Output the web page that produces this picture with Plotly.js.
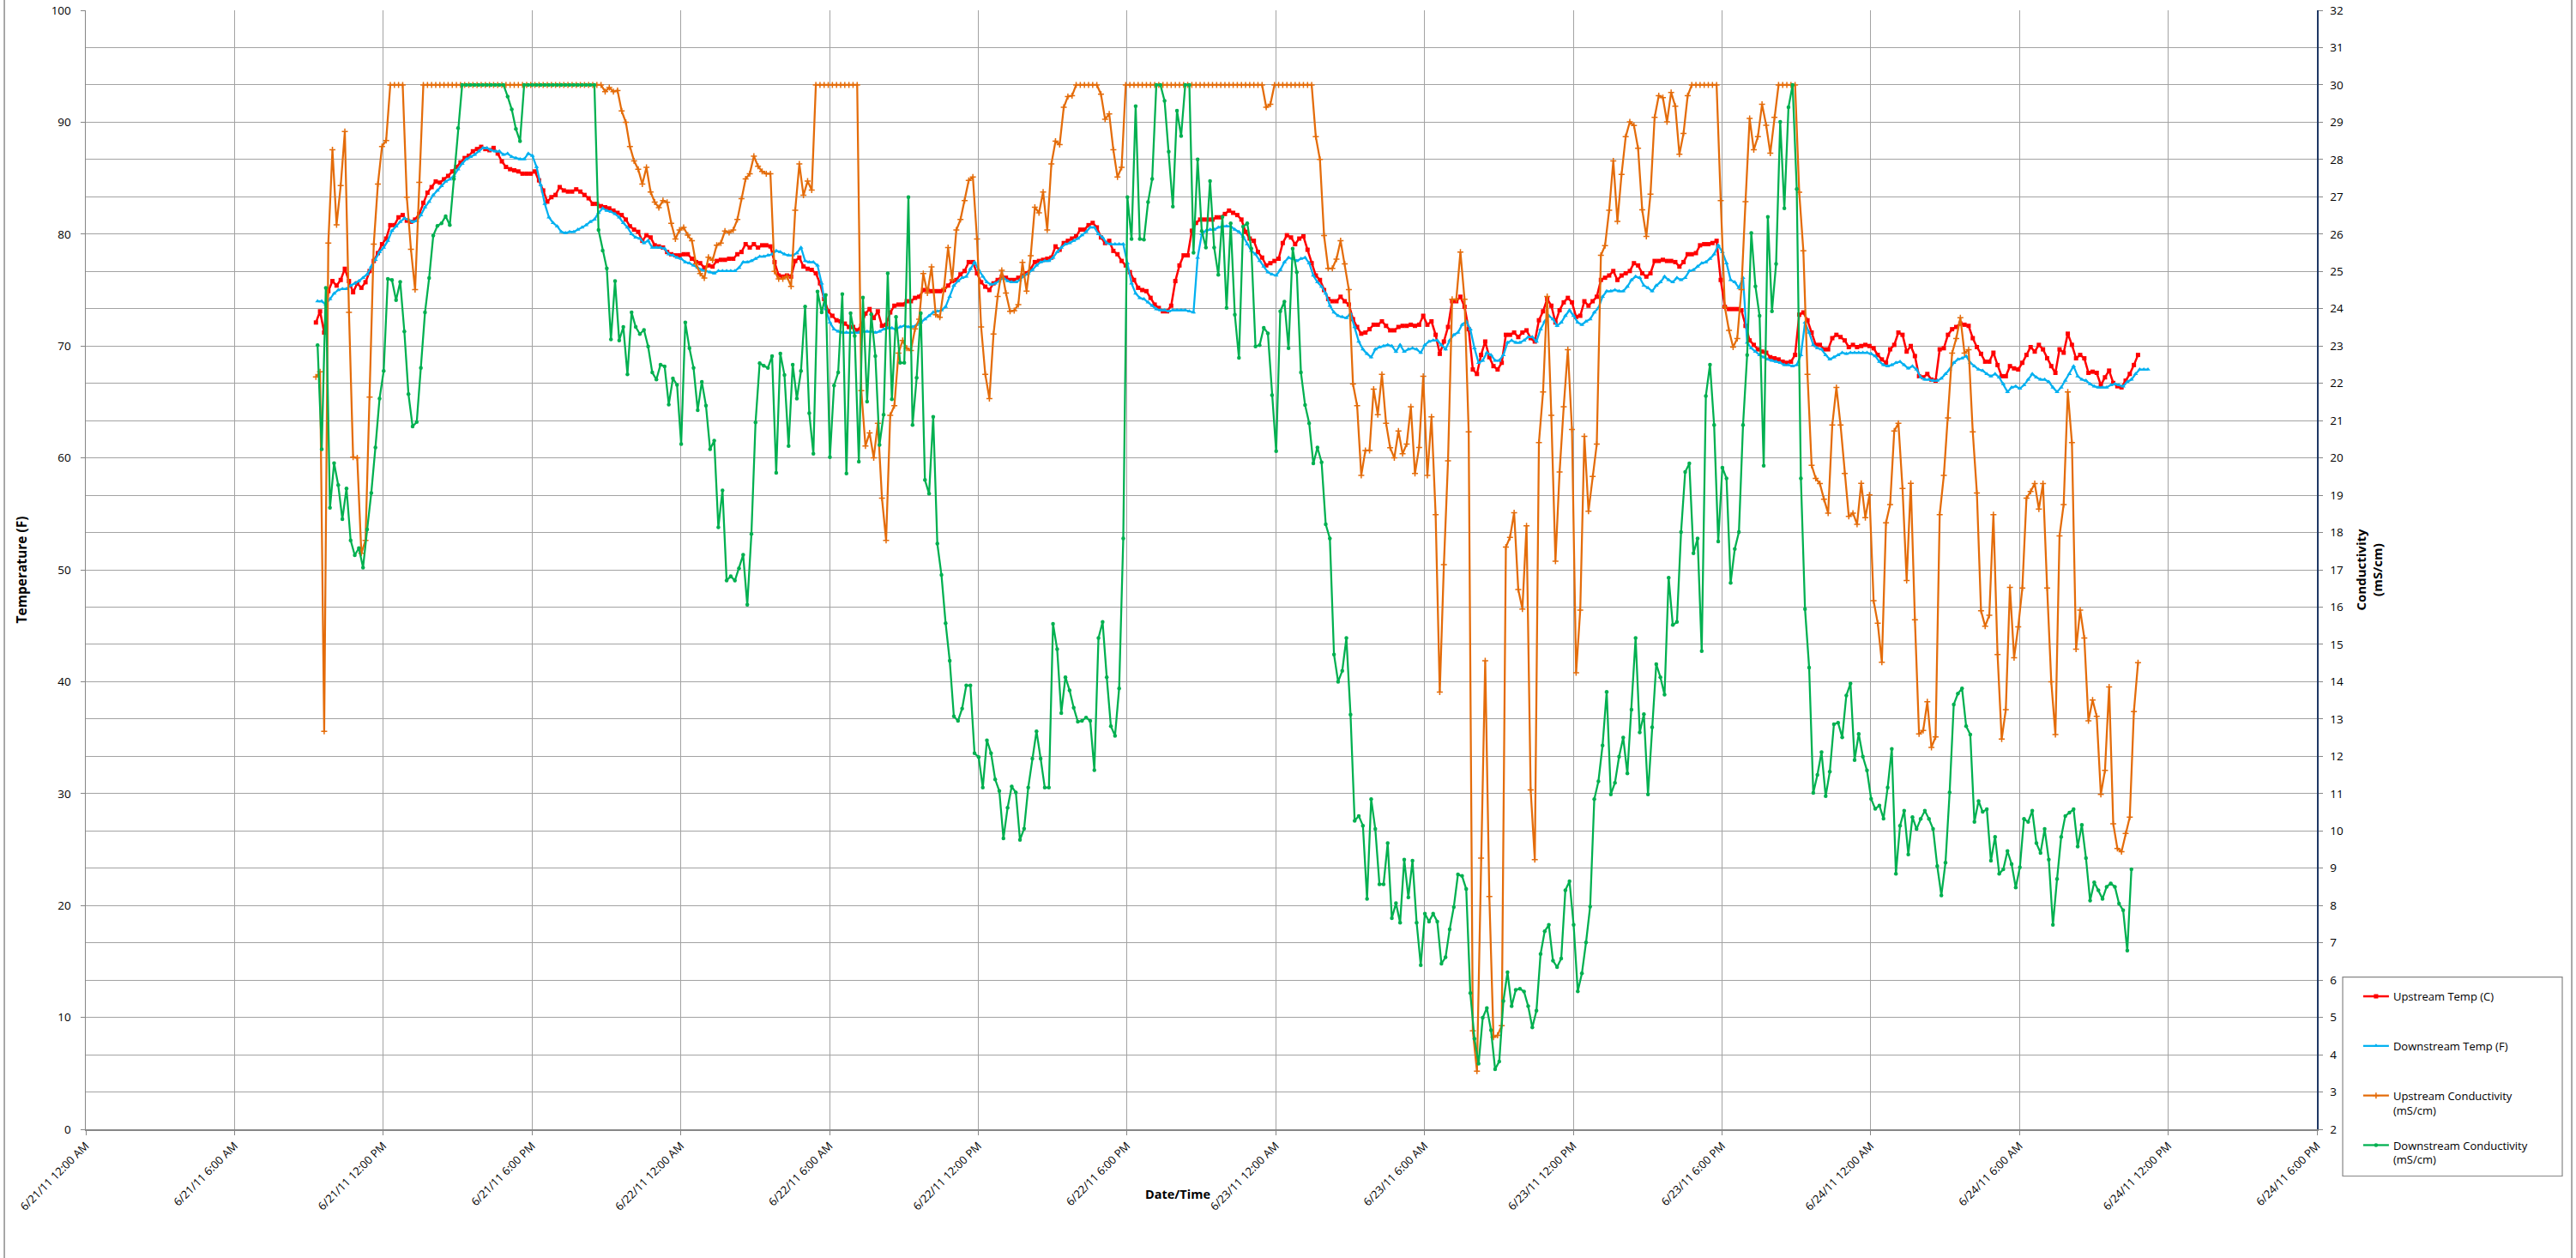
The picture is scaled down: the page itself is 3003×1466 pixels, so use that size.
<!DOCTYPE html>
<html>
<head>
<meta charset="utf-8">
<script src="https://cdn.plot.ly/plotly-3.0.1.min.js"></script>
<style>
html,body{margin:0;padding:0;background:#ffffff;}
#chart{width:3003px;height:1466px;}
</style>
</head>
<body>
<div id="chart"></div>
<script>
// ---- data (10-minute logger samples) ----
const upstreamStart = '2011-06-21T09:17:00';
const downstreamStart = '2011-06-21T09:21:00';
const sampleMinutes = 10;

const seriesNames = [
  'Upstream Temp (C)<br> ',
  'Downstream Temp (F)<br> ',
  'Upstream Conductivity<br>(mS/cm)',
  'Downstream Conductivity<br>(mS/cm)'
];

const xTickRange = ['2011-06-21 00:00:00', '2011-06-24 18:00:00'];

// Upstream temperature (left axis)
const upstreamTemp = [
72.1,73.1,71.2,74.9,75.8,75.4,75.9,76.9,75.8,74.8,
75.6,75.2,75.7,76.7,77.6,78.3,79.1,79.6,80.8,80.8,
81.5,81.7,81.2,81.1,81.3,81.8,82.8,83.7,84.2,84.7,
84.6,84.9,85.2,85.6,86.0,86.4,86.8,87.0,87.4,87.6,
87.8,87.6,87.5,87.7,87.2,86.5,86.0,85.8,85.7,85.6,
85.4,85.4,85.4,85.6,84.8,83.9,82.9,83.3,83.5,84.2,
83.9,83.8,83.8,84.0,83.8,83.5,83.2,82.7,82.7,82.5,
82.4,82.3,82.1,81.9,
81.7,81.3,80.7,80.4,80.2,79.4,79.9,79.7,79.0,78.9,
78.8,78.4,78.2,78.1,78.1,78.2,78.2,77.8,77.5,77.4,
77.0,77.2,77.1,77.6,77.7,77.7,77.8,77.8,78.2,78.4,
79.1,78.8,79.1,78.8,79.0,79.0,78.9,77.5,76.3,76.2,
76.3,76.2,77.6,77.9,77.1,76.9,76.8,76.5,75.6,74.2,
73.1,72.7,72.3,72.2,72.0,71.7,71.7,71.4,71.8,72.9,
73.3,72.5,73.1,71.8,71.9,73.0,73.6,73.7,73.7,74.0,
74.0,74.3,74.4,
75.0,75.0,74.9,74.9,74.9,75.0,75.4,75.8,75.9,76.4,
76.7,77.5,77.5,76.5,75.7,75.3,75.0,75.6,75.9,76.2,
76.1,75.9,75.9,76.1,76.3,76.5,76.9,77.5,77.6,77.7,
77.8,77.9,78.9,78.6,79.2,79.4,79.6,79.8,80.4,80.4,
80.8,81.0,80.6,79.7,79.2,79.4,78.5,78.2,77.6,77.2,
76.6,75.9,75.2,75.0,74.9,74.3,73.7,73.4,73.1,73.1,
73.6,75.8,77.2,78.1,78.1,80.3,81.0,81.3,81.3,81.3,
81.3,81.5,81.5,81.8,
82.1,81.9,81.7,81.3,80.2,79.6,79.4,78.4,77.9,77.2,
77.4,77.6,77.8,79.2,79.9,79.7,79.1,79.6,79.8,78.6,
77.4,76.3,75.9,75.0,74.2,74.0,74.0,74.4,74.0,73.7,
72.4,71.7,71.1,71.2,71.5,71.9,71.9,72.2,71.8,71.4,
71.4,71.7,71.8,71.8,71.9,71.8,71.9,72.7,71.9,72.2,
71.0,69.3,70.4,71.7,74.0,74.0,74.4,73.5,71.5,67.9,
67.5,69.2,70.4,69.0,68.2,67.9,68.5,71.0,71.0,71.2,
70.8,71.2,71.4,70.7,
70.4,72.3,73.1,74.2,73.6,72.1,73.2,73.9,74.3,73.9,
72.6,72.7,74.0,73.6,74.0,74.4,75.9,76.1,76.3,76.7,
75.9,76.3,76.5,76.7,77.4,77.2,76.5,76.2,76.5,77.6,
77.6,77.7,77.6,77.6,77.5,77.1,77.5,78.2,78.2,78.3,
79.0,79.1,79.1,79.2,79.4,75.9,73.5,73.3,73.3,73.3,
73.2,71.8,70.5,70.1,69.7,69.5,69.4,69.0,68.9,68.8,
68.6,68.5,68.6,69.2,72.8,73.0,72.3,71.2,70.1,70.1,
69.7,69.7,70.7,71.0,
70.8,70.5,69.9,70.1,69.9,70.0,70.1,70.0,69.8,69.2,
68.8,68.5,69.7,70.1,71.2,71.0,69.5,70.0,69.1,67.3,
67.2,67.5,67.0,66.9,69.7,69.8,71.0,71.5,71.7,72.0,
71.9,71.8,70.7,69.9,69.3,68.6,68.6,69.4,68.3,67.3,
67.3,68.2,68.0,67.9,68.5,69.2,69.9,69.5,70.1,69.7,
68.9,68.2,67.6,69.7,69.4,71.1,70.1,68.9,69.2,68.9,
67.6,67.7,67.6,66.5,67.2,67.8,66.7,66.4,66.3,66.9,
67.5,68.3,69.2
];

// Downstream temperature (left axis)
const downstreamTemp = [
74.0,74.0,73.7,74.2,74.7,75.0,75.1,75.1,75.4,75.6,
75.8,76.1,76.4,77.1,77.7,78.4,78.8,79.4,80.3,80.7,
81.1,81.4,81.3,81.1,81.2,81.7,82.4,82.9,83.5,83.9,
84.3,84.7,84.9,85.2,85.8,86.3,86.7,86.9,87.1,87.4,
87.7,87.7,87.5,87.4,87.4,87.1,87.2,86.9,86.8,86.7,
86.7,87.2,87.0,86.0,84.4,82.7,81.5,81.0,80.7,80.2,
80.1,80.2,80.2,80.4,80.6,80.8,81.1,81.3,81.9,82.3,
82.1,82.0,81.8,81.5,
81.0,80.6,80.0,79.7,79.6,79.2,79.4,78.8,78.8,78.8,
78.7,78.2,78.1,77.9,77.8,77.5,77.4,77.2,77.0,76.8,
76.7,76.6,76.5,76.7,76.7,76.7,76.7,76.7,77.0,77.5,
77.5,77.6,77.8,78.0,78.0,78.1,78.2,78.5,78.4,78.2,
78.1,78.1,78.3,78.8,77.6,77.5,77.5,77.2,75.6,73.3,
72.1,71.5,71.3,71.2,71.2,71.2,71.2,71.2,71.3,71.3,
71.3,71.2,71.3,71.5,71.6,71.6,71.5,71.7,71.8,71.7,
71.7,71.9,72.1,
72.4,72.7,73.0,73.1,73.2,73.5,74.4,75.4,75.8,76.1,
76.2,76.9,77.5,76.8,76.2,75.7,75.5,75.6,75.8,76.1,
75.8,75.7,75.7,75.9,76.3,76.5,76.8,77.2,77.5,77.6,
77.6,77.9,78.4,78.8,79.1,79.2,79.4,79.6,79.9,80.2,
80.6,80.6,80.0,79.7,79.2,79.1,79.1,79.1,79.1,77.4,
75.6,74.7,74.3,74.2,73.9,73.6,73.3,73.2,73.2,73.1,
73.2,73.2,73.2,73.2,73.1,73.0,77.9,80.0,80.3,80.4,
80.4,80.6,80.7,80.7,
80.7,80.4,80.2,79.8,79.1,78.5,78.2,77.6,77.1,76.6,
76.4,76.3,76.8,77.5,77.9,77.8,77.6,77.8,77.9,77.4,
76.3,75.7,75.3,74.7,73.6,73.0,72.7,72.6,72.5,72.9,
71.7,70.4,69.7,69.3,69.0,69.7,69.9,70.0,70.1,70.0,
69.5,70.1,69.5,69.7,69.8,69.7,69.4,70.1,70.4,70.5,
70.5,70.1,69.7,70.5,71.0,71.2,71.9,72.2,71.5,69.8,
68.5,68.7,69.4,69.2,68.7,68.7,69.2,70.3,70.5,70.3,
70.3,70.5,70.8,70.8,
70.4,71.5,72.2,72.7,72.4,71.8,72.1,72.7,73.2,72.7,
72.1,71.9,72.2,72.4,73.0,73.4,74.4,74.9,74.9,75.0,
74.9,74.9,75.3,75.9,76.2,76.1,75.4,75.2,74.9,75.4,
75.7,76.2,75.9,75.7,76.1,75.9,76.1,76.7,76.8,77.1,
77.4,77.5,77.8,78.2,79.0,78.4,77.4,75.9,75.7,75.2,
76.1,70.3,69.8,69.5,69.2,69.0,68.8,68.7,68.6,68.5,
68.3,68.3,68.2,68.3,69.2,72.1,71.2,70.1,69.8,69.7,
69.2,68.8,69.0,69.2,
69.4,69.3,69.4,69.4,69.4,69.4,69.4,69.3,69.1,68.6,
68.3,68.2,68.3,68.5,68.6,68.3,68.0,68.2,67.9,67.2,
67.0,67.0,66.9,66.9,67.1,67.5,67.9,68.5,68.8,68.9,
69.1,68.5,68.2,67.9,67.8,67.5,67.3,67.5,67.2,66.6,
65.9,66.3,66.4,66.2,66.5,67.0,67.5,67.2,67.0,67.0,
66.8,66.3,65.9,66.3,66.9,67.5,68.2,67.3,67.0,66.9,
66.6,66.4,66.3,66.3,66.3,66.5,66.6,66.5,66.4,66.8,
67.0,67.5,67.9,67.9,67.9
];

// Upstream conductivity (right axis, mS/cm)
const upstreamCond = [
22.17,22.31,12.67,25.76,28.26,26.25,27.3,28.75,23.9,20.02,
20.0,17.44,17.79,21.63,25.73,27.34,28.35,28.51,30,30,
30,30,26.99,25.59,24.51,27.39,30,30,30,30,
30,30,30,30,30,30,30,30,30,30,
30,30,30,30,30,30,30,30,30,30,
30,30,30,30,30,30,30,30,30,30,
30,30,30,30,30,30,30,30,30,30,
29.82,29.93,29.82,29.85,
29.3,29.0,28.35,27.96,27.74,27.34,27.79,27.13,26.86,26.71,
26.9,26.85,26.29,25.87,26.11,26.18,25.97,25.82,25.2,24.94,
24.82,25.38,25.3,25.7,25.76,26.08,26.04,26.11,26.39,26.95,
27.48,27.62,28.09,27.82,27.68,27.62,27.62,25.0,24.8,24.8,
24.86,24.6,26.64,27.88,27.04,27.42,27.18,30,30,30,
30,30,30,30,30,30,30,30,21.8,20.32,
20.67,20.0,20.93,18.92,17.79,21.14,21.4,22.81,23.15,22.94,
22.88,23.46,23.72,
24.94,24.42,25.12,23.84,23.77,24.54,25.64,24.77,26.11,26.39,
26.9,27.44,27.53,25.87,23.51,22.24,21.59,23.32,24.33,25.03,
24.42,23.93,23.95,24.11,25.24,24.47,25.42,26.72,26.57,27.13,
26.11,27.88,28.49,28.4,29.4,29.69,29.71,30,30,30,
30,30,30,29.75,29.08,29.22,28.26,27.53,27.79,30,
30,30,30,30,30,30,30,30,30,30,
30,30,30,30,30,30,30,30,30,30,
30,30,30,30,
30,30,30,30,30,30,30,30,30,
29.4,29.48,30,30,30,30,30,30,30,30,30,30,
28.61,28.0,25.96,25.08,25.08,25.33,25.82,25.2,24.51,21.98,
21.4,19.53,20.2,20.2,21.84,21.16,22.24,20.93,20.27,20.0,
20.72,20.11,20.37,21.37,19.58,20.28,22.19,19.53,21.1,18.48,
13.72,17.14,19.92,24.25,24.25,25.52,24.25,20.7,4.64,3.56,
9.27,14.56,8.24,4.47,4.52,4.78,17.61,17.87,18.53,16.47,
15.95,18.18,11.1,
9.23,20.41,21.77,24.33,21.14,17.23,19.62,21.37,22.9,20.76,
14.24,15.92,20.58,18.57,19.5,20.37,25.43,25.69,26.64,27.96,
26.34,27.6,28.61,29.01,28.91,28.3,26.65,25.94,27.07,29.13,
29.71,29.66,29.01,29.8,29.43,28.14,28.7,29.71,30,30,
30,30,30,30,30,26.9,24.04,23.42,22.97,23.2,
24.51,26.87,29.1,28.26,28.61,29.48,28.92,28.17,29.13,30,
30,30,30,30,27.12,25.55,22.24,19.8,19.45,19.31,
18.89,18.52,20.88,21.89,
20.88,19.58,18.43,18.52,18.22,19.32,18.4,19.01,16.17,15.57,
14.52,18.26,18.75,20.72,20.93,19.18,16.71,19.32,15.66,12.6,
12.69,13.46,12.24,12.52,18.48,19.53,21.07,22.81,23.2,23.76,
22.81,22.9,20.7,19.06,15.9,15.49,15.78,18.48,14.73,12.46,
13.25,16.53,14.64,15.47,16.51,18.92,19.1,19.31,18.63,19.31,
16.51,14.0,12.58,17.91,18.75,21.77,20.41,14.87,15.92,15.17,
12.95,13.51,13.07,10.98,11.62,13.86,10.19,9.53,9.44,9.93,
10.37,13.2,14.51
];

// Downstream conductivity (right axis, mS/cm)
const downstreamCond = [
23.02,20.23,24.56,18.66,19.86,19.27,18.36,19.18,17.79,17.39,
17.58,17.06,18.08,19.06,20.28,21.59,22.33,24.8,24.77,24.23,
24.72,23.39,21.71,20.84,20.96,22.41,23.9,24.82,25.96,26.22,
26.29,26.48,26.24,27.48,28.84,30,30,30,30,30,
30,30,30,30,30,30,29.69,29.34,28.82,28.49,
30,30,30,30,30,30,30,30,30,30,
30,30,30,30,30,30,30,30,
26.11,25.56,25.08,23.18,24.74,
23.15,23.51,22.24,23.9,23.51,23.32,23.43,22.99,22.29,22.1,
22.5,22.45,21.43,22.13,21.96,20.37,23.63,22.94,22.41,21.28,
22.04,21.4,20.23,20.46,18.14,19.13,16.71,16.83,16.71,17.04,
17.4,16.06,17.96,20.95,22.54,22.47,22.41,22.73,19.6,22.8,
22.22,20.32,22.5,21.59,22.33,24.06,21.2,20.11,24.46,23.9,
24.37,20.02,21.94,22.29,24.39,19.58,23.88,23.27,19.9,24.3,
21.51,23.85,22.73,20.35,21.16,24.95,21.57,23.78,22.55,22.55,
26.99,20.88,22.15,23.88,
19.41,19.04,21.1,17.7,16.86,15.57,14.56,13.07,12.95,13.28,
13.9,13.9,12.08,11.98,11.16,12.43,12.08,11.38,11.07,9.8,
10.62,11.19,11.03,9.76,10.06,11.16,11.94,12.67,11.94,11.16,
11.16,15.55,14.87,13.16,14.12,13.77,13.3,12.93,12.95,13.04,
12.95,11.63,15.17,15.6,14.12,12.81,12.55,13.82,17.84,26.99,
25.87,29.43,25.87,25.85,26.86,27.48,30,30,29.57,28.21,
26.74,29.31,28.63,30,30,25.5,28.0,26.08,25.64,27.42,
25.64,24.91,26.46,24.02,
26.29,23.84,22.68,26.2,26.29,25.61,22.99,23.02,23.49,23.34,
21.68,20.18,23.93,24.19,22.94,25.61,24.98,22.29,21.42,20.93,
19.85,20.28,19.88,18.22,17.84,14.73,14.0,14.29,15.17,13.12,
10.27,10.4,10.14,8.18,10.85,10.05,8.57,8.57,9.67,7.66,
8.06,7.54,9.23,8.22,9.2,7.54,6.4,7.78,7.57,7.78,
7.57,6.44,6.61,7.36,7.96,8.83,8.79,8.44,5.65,4.43,
3.76,4.99,5.25,4.66,3.61,3.82,5.44,6.21,5.3,5.74,
5.77,5.69,5.3,
4.73,5.18,6.7,7.31,7.48,6.52,6.35,6.58,8.41,8.65,
7.48,5.7,6.18,7.01,7.97,10.85,11.33,12.29,13.73,10.98,
11.29,11.99,12.5,11.54,13.25,15.17,12.64,13.13,10.98,12.78,
14.47,14.12,13.65,16.79,15.52,15.6,18.01,19.62,19.85,17.44,
17.84,14.82,21.66,22.5,20.88,17.76,19.74,19.45,16.65,17.56,
18.01,20.88,22.76,26.03,24.6,23.81,19.79,26.46,23.93,25.2,
29.01,26.69,29.4,30,27.21,19.45,15.95,14.38,11.02,11.5,
12.11,10.93,11.59,12.86,
12.9,12.51,13.63,13.95,11.9,12.6,11.99,11.62,10.86,10.59,
10.68,10.33,11.16,12.2,8.85,10.14,10.54,9.37,10.37,10.05,
10.32,10.54,10.32,10.05,9.06,8.27,9.15,11.03,13.39,13.68,
13.82,12.81,12.58,10.24,10.8,10.51,10.58,9.2,9.84,8.85,
8.97,9.46,9.11,8.48,9.02,10.32,10.24,10.54,9.67,9.41,
10.05,9.23,7.48,8.71,9.84,10.4,10.49,10.58,9.58,10.16,
9.27,8.13,8.62,8.41,8.18,8.5,8.59,8.5,8.05,7.87,
6.79,8.97
];

// ---- timestamps from logger start + fixed interval ----
function stamps(start, n) {
  const t0 = Date.parse(start + 'Z');
  const out = [];
  for (let k = 0; k < n; k++) {
    out.push(new Date(t0 + k * sampleMinutes * 60000).toISOString().slice(0, 19).replace('T', ' '));
  }
  return out;
}

const FONT = 'Open Sans, Liberation Sans, Arial, sans-serif';
const GRID = '#a3a3a3';
const AXIS = '#868686';

const traces = [
  {
    name: seriesNames[0], legendgroup: 'g1',
    x: stamps(upstreamStart, upstreamTemp.length), y: upstreamTemp,
    type: 'scatter', mode: 'lines+markers', yaxis: 'y',
    line: {color: '#FF0000', width: 2.5},
    marker: {symbol: 'square', size: 5, color: '#FF0000'}
  },
  {
    name: seriesNames[1], legendgroup: 'g2',
    x: stamps(downstreamStart, downstreamTemp.length), y: downstreamTemp,
    type: 'scatter', mode: 'lines+markers', yaxis: 'y',
    line: {color: '#00B0F0', width: 2.25},
    marker: {symbol: 'triangle-up', size: 5, color: '#00B0F0'}
  },
  {
    name: seriesNames[2], legendgroup: 'g3',
    x: stamps(upstreamStart, upstreamCond.length), y: upstreamCond,
    type: 'scatter', mode: 'lines+markers', yaxis: 'y2',
    line: {color: '#E46C0A', width: 2.25},
    marker: {symbol: 'cross-thin', size: 5, color: '#E46C0A', line: {color: '#E46C0A', width: 1.5}}
  },
  {
    name: seriesNames[3], legendgroup: 'g4',
    x: stamps(downstreamStart, downstreamCond.length), y: downstreamCond,
    type: 'scatter', mode: 'lines+markers', yaxis: 'y2',
    line: {color: '#00B050', width: 2.25},
    marker: {symbol: 'circle', size: 4.5, color: '#00B050'}
  }
];

const layout = {
  width: 3003, height: 1466,
  margin: {l: 100, r: 302, t: 12, b: 150, pad: 0},
  paper_bgcolor: '#ffffff', plot_bgcolor: '#ffffff',
  font: {family: FONT, size: 13, color: '#000000'},
  showlegend: true,
  legend: {
    x: 1.0188, y: 0.1303, xanchor: 'left', yanchor: 'top',
    bgcolor: 'rgba(0,0,0,0)', borderwidth: 0,
    font: {family: FONT, size: 13, color: '#000000'},
    traceorder: 'grouped', tracegroupgap: 21, valign: 'top'
  },
  xaxis: {
    type: 'date', range: xTickRange,
    tick0: xTickRange[0], dtick: 6 * 3600 * 1000,
    tickformat: '%-m/%-d/%y %-I:%M %p', tickangle: -45,
    tickfont: {family: FONT, size: 13, color: '#000000'},
    ticks: 'outside', ticklen: 5, tickcolor: AXIS, tickwidth: 1,
    showgrid: true, gridcolor: GRID, gridwidth: 1,
    showline: true, linecolor: AXIS, linewidth: 1.5,
    zeroline: false, automargin: false
  },
  yaxis: {
    range: [0, 100], dtick: 10, tick0: 0,
    tickfont: {family: FONT, size: 13.5, color: '#000000'},
    ticks: 'outside', ticklen: 5, tickcolor: AXIS, ticklabelstandoff: 8,
    showgrid: true, gridcolor: GRID, gridwidth: 1,
    minor: {dtick: 10 / 3, tick0: 0, showgrid: true, gridcolor: GRID, gridwidth: 1, ticks: ''},
    showline: true, linecolor: AXIS, linewidth: 1.5,
    zeroline: false, automargin: false,
    title: {text: '<b>Temperature (F)</b>', font: {family: FONT, size: 15.5, color: '#000000'}, standoff: 24}
  },
  yaxis2: {
    overlaying: 'y', side: 'right', anchor: 'x',
    range: [2, 32], dtick: 1, tick0: 2,
    tickfont: {family: FONT, size: 13.5, color: '#000000'},
    ticks: 'outside', ticklen: 5, tickcolor: AXIS, ticklabelstandoff: 6,
    showgrid: false, showline: true, linecolor: '#1F3864', linewidth: 1.5,
    zeroline: false, automargin: false,
    title: {text: '<b>Conductivity<br>(mS/cm)</b>', font: {family: FONT, size: 15, color: '#000000'}, standoff: 16}
  },
  annotations: [
    {
      text: '<b>Date/Time</b>', xref: 'paper', yref: 'paper',
      x: 0.4894, y: -0.0579, xanchor: 'center', yanchor: 'middle',
      showarrow: false, font: {family: FONT, size: 14.5, color: '#000000'}
    }
  ],
  shapes: [
    // legend frame
    {type: 'rect', xref: 'paper', yref: 'paper',
     x0: 1.01154, x1: 1.10996, y0: -0.0418, y1: 0.1361,
     line: {color: AXIS, width: 1.2}, fillcolor: 'rgba(0,0,0,0)'},
    // chart-area border (left and right edges)
    {type: 'line', xref: 'paper', yref: 'paper',
     x0: -0.0365, x1: -0.0365, y0: -0.2, y1: 1.05, line: {color: '#8c8c8c', width: 1.5}},
    {type: 'line', xref: 'paper', yref: 'paper',
     x0: 1.1142, x1: 1.1142, y0: -0.2, y1: 1.05, line: {color: '#8c8c8c', width: 1.5}}
  ]
};

Plotly.newPlot('chart', traces, layout, {staticPlot: true, displayModeBar: false});
</script>
</body>
</html>
